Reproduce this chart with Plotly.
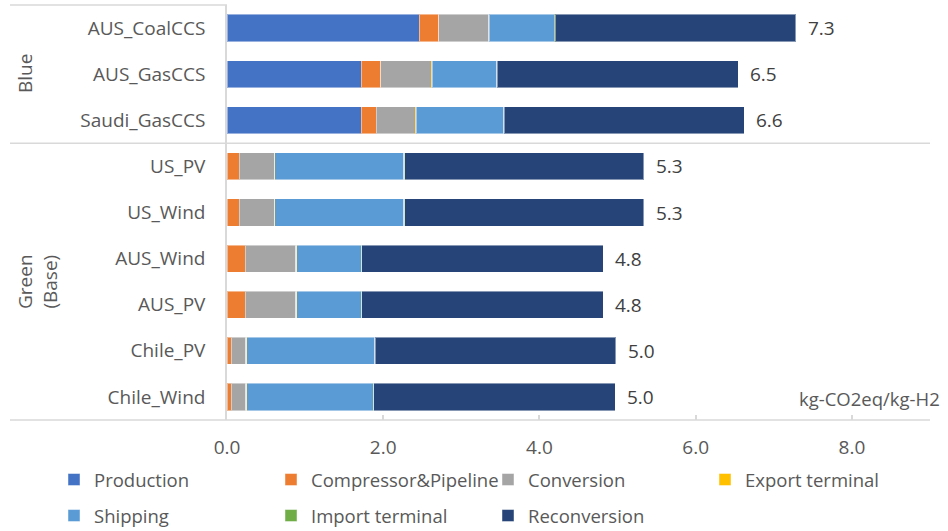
import plotly.graph_objects as go

categories = ["AUS_CoalCCS", "AUS_GasCCS", "Saudi_GasCCS", "US_PV", "US_Wind",
              "AUS_Wind", "AUS_PV", "Chile_PV", "Chile_Wind"]

production   = [2.46, 1.72, 1.72, 0.0, 0.0, 0.0, 0.0, 0.0, 0.0]
compressor   = [0.25, 0.25, 0.19, 0.154, 0.154, 0.235, 0.235, 0.056, 0.056]
conversion   = [0.64, 0.645, 0.50, 0.45, 0.45, 0.645, 0.645, 0.184, 0.184]
export_term  = [0.01, 0.01, 0.01, 0.01, 0.01, 0.01, 0.01, 0.01, 0.01]
shipping     = [0.83, 0.827, 1.12, 1.65, 1.65, 0.827, 0.827, 1.64, 1.62]
import_term  = [0.01, 0.01, 0.01, 0.01, 0.01, 0.01, 0.01, 0.01, 0.01]
reconversion = [3.08, 3.085, 3.07, 3.06, 3.06, 3.09, 3.09, 3.08, 3.09]

series = [
    ("Production", production, "#4472C4"),
    ("Compressor&Pipeline", compressor, "#ED7D31"),
    ("Conversion", conversion, "#A5A5A5"),
    ("Export terminal", export_term, "#FFC000"),
    ("Shipping", shipping, "#5B9BD5"),
    ("Import terminal", import_term, "#70AD47"),
    ("Reconversion", reconversion, "#264478"),
]

tick_vals = [0, 2, 4, 6, 8]
tick_text = ["0.0", "2.0", "4.0", "6.0", "8.0"]
unit_label = "kg-CO2eq/kg-H2"

FONT = "Open Sans"
FS = 19
GREY = "#595959"
LINE = "#D9D9D9"

W, H = 948, 531
L, R, T, B = 227, 18, 5, 111
pw = W - L - R
ph = H - T - B

def px_x(px):
    return (px - L) / pw

def px_y(py):
    return 1 - (py - T) / ph

fig = go.Figure()
for i, (name, vals, color) in enumerate(series):
    fig.add_trace(go.Bar(
        y=categories, x=vals, name=name, orientation="h",
        legend="legend" if i < 4 else "legend2",
        marker=dict(color=color, line=dict(color="rgba(255,255,255,0.45)", width=1)),
    ))

totals = [sum(s[1][i] for s in series) for i in range(len(categories))]
annotations = []
for cat, tot in zip(categories, totals):
    annotations.append(dict(x=tot, y=cat, xref="x", yref="y", text=f"{tot:.1f}",
                            showarrow=False, xanchor="left", xshift=10,
                            font=dict(family=FONT, size=FS, color="#404040")))

annotations.append(dict(x=px_x(25), y=px_y(74), xref="paper", yref="paper", text="Blue",
                        textangle=-90, showarrow=False, xanchor="center", yanchor="middle",
                        font=dict(family=FONT, size=FS, color=GREY)))
annotations.append(dict(x=px_x(37), y=px_y(282), xref="paper", yref="paper",
                        text="Green<br>(Base)", textangle=-90, showarrow=False,
                        xanchor="center", yanchor="middle",
                        font=dict(family=FONT, size=FS, color=GREY)))
annotations.append(dict(x=px_x(942), y=px_y(398), xref="paper", yref="paper",
                        text=unit_label, xanchor="right", yanchor="middle", showarrow=False,
                        font=dict(family=FONT, size=18.5, color=GREY)))

shapes = [
    dict(type="line", xref="paper", yref="paper", x0=px_x(10), x1=0, y0=1, y1=1,
         line=dict(color=LINE, width=1.5)),
    dict(type="line", xref="paper", yref="y", x0=px_x(10), x1=1, y0=2.5, y1=2.5,
         line=dict(color=LINE, width=1.5)),
    dict(type="line", xref="paper", yref="paper", x0=px_x(10), x1=1, y0=0, y1=0,
         line=dict(color=LINE, width=1.5)),
]

legend_common = dict(orientation="h", xanchor="left", yanchor="middle",
                     entrywidth=172, entrywidthmode="pixels", traceorder="normal",
                     font=dict(family=FONT, size=18.5, color=GREY), itemclick=False,
                     itemdoubleclick=False)

fig.update_layout(
    width=W, height=H, barmode="stack", bargap=0.41,
    margin=dict(l=L, r=R, t=T, b=B, pad=0, autoexpand=False),
    paper_bgcolor="white", plot_bgcolor="white",
    font=dict(family=FONT, size=FS, color=GREY),
    xaxis=dict(range=[0, 9], tickvals=tick_vals, ticktext=tick_text,
               showgrid=False, zeroline=False, showline=False,
               ticks="inside", ticklen=5, tickcolor=LINE, tickwidth=1.5,
               ticklabelstandoff=14,
               tickfont=dict(family=FONT, size=FS, color=GREY)),
    yaxis=dict(categoryorder="array", categoryarray=categories, autorange="reversed",
               showgrid=False, zeroline=False, showline=True, linecolor=LINE, linewidth=1.5,
               ticks="", ticklabelstandoff=16,
               tickfont=dict(family=FONT, size=FS, color=GREY)),
    legend=dict(x=px_x(54), y=px_y(480), **legend_common),
    legend2=dict(x=px_x(54), y=px_y(516), **legend_common),
    annotations=annotations, shapes=shapes, showlegend=True,
)

fig.write_html("out.html")
